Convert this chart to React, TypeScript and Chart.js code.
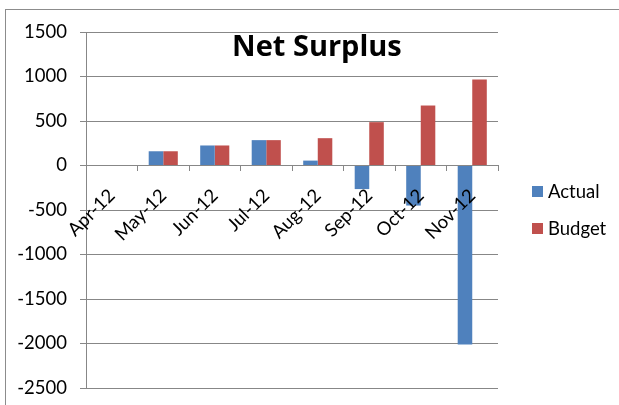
import React, { useEffect, useRef } from "react";
import { Chart, registerables } from "chart.js";

Chart.register(...registerables);

const categories = ["Apr-12", "May-12", "Jun-12", "Jul-12", "Aug-12", "Sep-12", "Oct-12", "Nov-12"];
const actualValues = [0, 160, 225, 285, 55, -265, -450, -2010];
const budgetValues = [0, 160, 225, 285, 307, 487, 674, 966];
const seriesNames = ["Actual", "Budget"];
const seriesColors = ["#4F81BD", "#C0504D"];
const titleText = "Net Surplus";
const yMin = -2500;
const yMax = 1500;
const yStep = 500;

const FONT = "Lato, 'Open Sans', sans-serif";
const GRID = "#878787";

const overlayPlugin = {
  id: "excelOverlay",
  afterDraw(chart: any) {
    const { ctx, chartArea, width } = chart;
    ctx.save();
    // title
    ctx.fillStyle = "#000";
    ctx.font = "bold 29px 'Open Sans', Lato, sans-serif";
    ctx.textAlign = "center";
    ctx.textBaseline = "alphabetic";
    ctx.fillText(titleText, width * 0.512, chartArea.top + 24);
    // legend
    const cy = (chartArea.top + chartArea.bottom) / 2;
    const x0 = chartArea.right + 34;
    ctx.font = "18.5px " + FONT;
    ctx.textAlign = "left";
    chart.data.datasets.forEach((ds: any, i: number) => {
      const yc = cy - 18.5 + i * 37;
      ctx.fillStyle = ds.backgroundColor;
      ctx.fillRect(x0, yc - 5.5, 11, 11);
      ctx.fillStyle = "#000";
      ctx.fillText(ds.label, x0 + 16, yc + 6);
    });
    ctx.restore();
  },
};

export default function App() {
  const ref = useRef<HTMLCanvasElement>(null);
  useEffect(() => {
    if (!ref.current) return;
    const chart = new Chart(ref.current, {
      type: "bar",
      data: {
        labels: categories,
        datasets: [
          { label: seriesNames[0], data: actualValues, backgroundColor: seriesColors[0] },
          { label: seriesNames[1], data: budgetValues, backgroundColor: seriesColors[1] },
        ],
      },
      options: {
        animation: false,
        responsive: false,
        maintainAspectRatio: false,
        layout: { padding: { top: 32, bottom: 17, left: 0, right: 121 } },
        datasets: { bar: { barPercentage: 1, categoryPercentage: 0.565 } } as any,
        plugins: {
          legend: { display: false },
          title: { display: false },
          tooltip: { enabled: false },
        },
        scales: {
          x: {
            position: { y: 0 } as any,
            afterFit: (s: any) => {
              s.height = 0;
            },
            grid: {
              offset: true,
              drawOnChartArea: false,
              drawTicks: true,
              tickLength: 5,
              color: GRID,
              z: 1,
            },
            border: { display: true, color: GRID, width: 1, z: 1 },
            ticks: {
              z: 2,
              minRotation: 45,
              maxRotation: 45,
              autoSkip: false,
              padding: 14,
              color: "#000",
              font: { family: FONT, size: 18.5 },
            },
          },
          y: {
            min: yMin,
            max: yMax,
            afterFit: (s: any) => {
              s.width = 86;
              s.paddingTop = 0;
              s.paddingBottom = 0;
            },
            grid: { color: GRID, tickLength: 6, drawTicks: true },
            border: { display: true, color: GRID, width: 1 },
            ticks: {
              stepSize: yStep,
              padding: 13,
              color: "#000",
              font: { family: FONT, size: 18.5 },
              callback: (v: any) => String(v),
            },
          },
        },
      },
      plugins: [overlayPlugin],
    });
    return () => chart.destroy();
  }, []);
  return (
    <div
      style={{
        position: "fixed",
        left: 0,
        top: 0,
        width: 619,
        height: 405,
        overflow: "hidden",
        background: "#fff",
      }}
    >
      <div
        style={{
          position: "absolute",
          left: 5,
          top: 9,
          width: 800,
          height: 600,
          border: "1px solid #8c8c8c",
        }}
      />
      <canvas ref={ref} width={619} height={405} style={{ position: "absolute", left: 0, top: 0 }} />
    </div>
  );
}
